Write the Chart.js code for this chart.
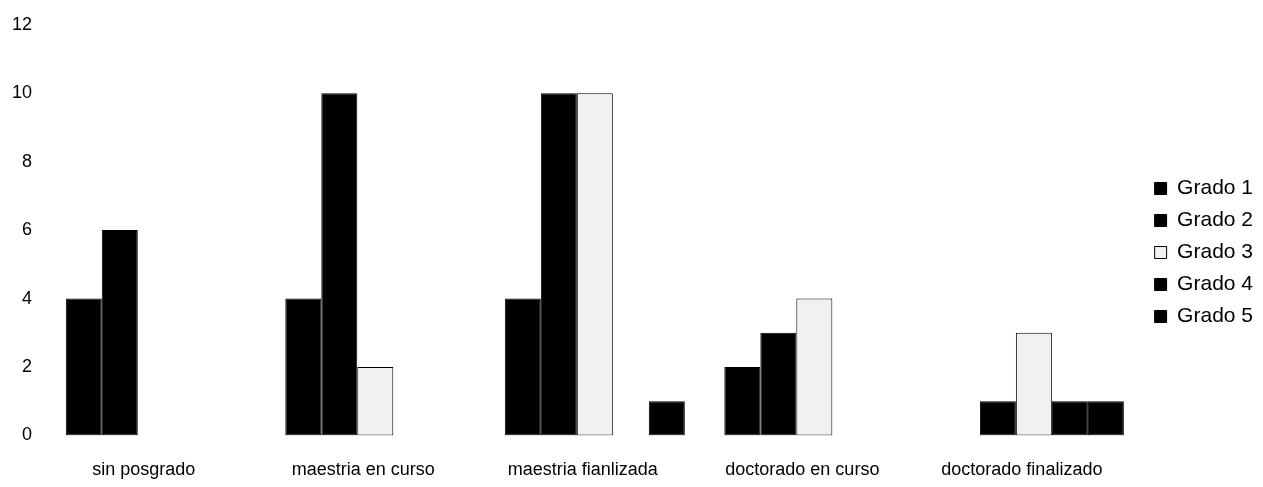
<!DOCTYPE html>
<html>
<head>
<meta charset="utf-8">
<script src="https://cdn.jsdelivr.net/npm/chart.js"></script>
<style>
  html, body { margin: 0; padding: 0; background: #fff; }
  #wrap { width: 1263px; height: 487px; }
</style>
</head>
<body>
<div id="wrap"><canvas id="gradosChart"></canvas></div>
<script>
const categories = ['sin posgrado', 'maestria en curso', 'maestria fianlizada', 'doctorado en curso', 'doctorado finalizado'];
const grado1 = [4, 4, 4, 2, 0];
const grado2 = [6, 10, 10, 3, 1];
const grado3 = [0, 2, 10, 4, 3];
const grado4 = [0, 0, 0, 0, 1];
const grado5 = [0, 0, 1, 0, 1];
const yTicks = [0, 2, 4, 6, 8, 10, 12];

const family = "'Liberation Sans', Arial, sans-serif";

const makeSet = (label, data, fill) => ({
  label: label,
  data: data,
  backgroundColor: fill,
  borderColor: '#000',
  borderWidth: 1,
  borderSkipped: false
});

document.addEventListener('DOMContentLoaded', function () {
  const ctx = document.getElementById('gradosChart').getContext('2d');
  new Chart(ctx, {
    type: 'bar',
    data: {
      labels: categories,
      datasets: [
        makeSet('Grado 1', grado1, '#000'),
        makeSet('Grado 2', grado2, '#000'),
        makeSet('Grado 3', grado3, '#f1f1f1'),
        makeSet('Grado 4', grado4, '#000'),
        makeSet('Grado 5', grado5, '#000')
      ]
    },
    options: {
      responsive: true,
      maintainAspectRatio: false,
      animation: false,
      // tick padding is counted twice by Chart.js, so the outer padding is negative
      layout: { padding: { top: 0, left: -2, bottom: -18, right: 0 } },
      scales: {
        x: {
          grid: { display: false, drawTicks: false },
          border: { display: false },
          ticks: { color: '#000', font: { family: family, size: 18 }, padding: 24, labelOffset: -12, maxRotation: 0 }
        },
        y: {
          min: 0,
          max: 12,
          afterBuildTicks: axis => { axis.ticks = yTicks.map(v => ({ value: v })); },
          grid: { display: false, drawTicks: false },
          border: { display: false },
          ticks: { color: '#000', font: { family: family, size: 18 }, padding: 14 }
        }
      },
      datasets: { bar: { categoryPercentage: 0.82, barPercentage: 1.0 } },
      plugins: {
        // empty title only reserves the space above the plot, so the legend stays centred
        title: {
          display: true,
          text: '',
          font: { size: 10 },
          padding: { top: 0, bottom: 10 }
        },
        legend: {
          position: 'right',
          labels: {
            color: '#000',
            font: { family: family, size: 21 },
            boxWidth: 12,
            boxHeight: 12,
            padding: 11
          }
        },
        tooltip: { enabled: false }
      }
    }
  });
});
</script>
</body>
</html>
